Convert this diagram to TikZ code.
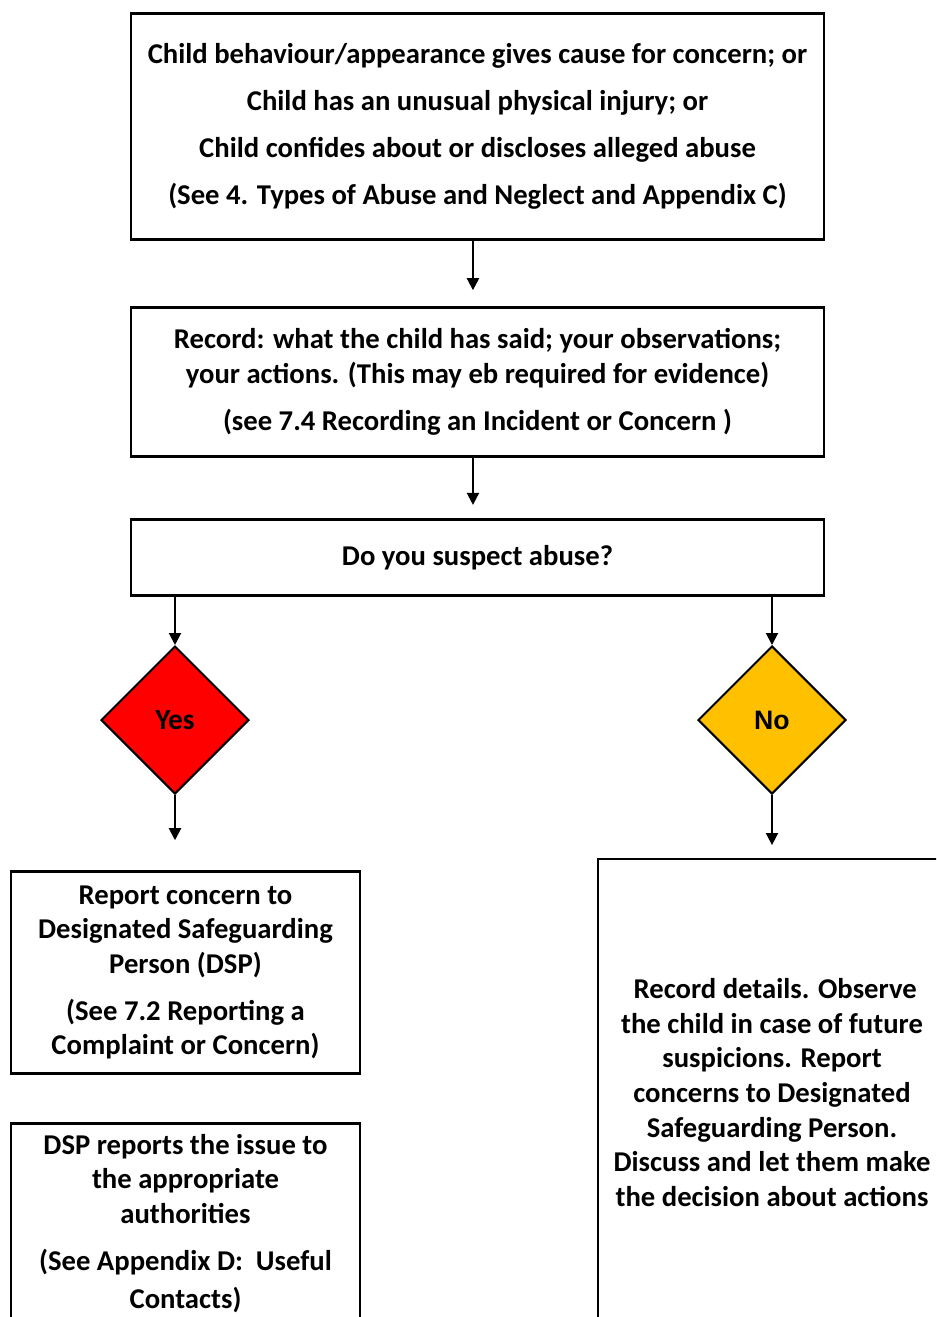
\documentclass[tikz,border=0pt]{standalone}
\usepackage{fontspec}
\setmainfont{Carlito}
\newfontfamily\arialfont{Liberation Sans}
\usetikzlibrary{shapes.geometric,arrows.meta}
\begin{document}
\begin{tikzpicture}[x=0.75pt,y=-0.75pt,
  box/.style={draw, line width=1.9pt, inner sep=0pt, align=center,
    font=\bfseries\fontsize{21.5}{25.9}\selectfont},
  arr/.style={line width=1.5pt, -{Triangle[width=9pt,length=9pt]}},
  dia/.style={diamond, draw, line width=1.5pt, minimum size=148*0.75pt,
    inner sep=0pt, aspect=1}]
\clip (0,0) rectangle (936,1317);
\fill[white] (0,0) rectangle (936,1317);

\node[box, minimum width=693*0.75pt, minimum height=226*0.75pt] (b1) at (477.5,126.5)
 {Child behaviour/appearance gives cause for concern; or\\[9.4pt]
  Child has an unusual physical injury; or\\[9.4pt]
  Child confides about or discloses alleged abuse\\[9.4pt]
  (See 4. Types of Abuse and Neglect and Appendix C)};

\node[box, minimum width=693*0.75pt, minimum height=149*0.75pt] (b2) at (477.5,382)
 {Record: what the child has said; your observations;\\
  your actions. (This may eb required for evidence)\\[9.4pt]
  (see 7.4 Recording an Incident or Concern )};

\node[box, minimum width=693*0.75pt, minimum height=76*0.75pt] (b3) at (477.5,557.5)
 {Do you suspect abuse?};

\node[dia, fill={rgb,255:red,255;green,0;blue,0},
  font=\bfseries\fontsize{22}{26}\selectfont] (yes) at (175,720) {Yes};
\node[dia, fill={rgb,255:red,255;green,192;blue,0},
  font=\arialfont\bfseries\fontsize{20}{24}\selectfont] (no) at (772,720) {No};

\node[box, minimum width=349*0.75pt, minimum height=202*0.75pt] (l1) at (185.5,972.5)
 {Report concern to\\Designated Safeguarding\\Person (DSP)\\[9.4pt]
  (See 7.2 Reporting a\\Complaint or Concern)};

\node[box, minimum width=349*0.75pt, minimum height=200*0.75pt] (l2) at (185.5,1223.5)
 {DSP reports the issue to\\the appropriate\\authorities\\[9.4pt]
  (See Appendix D:\ \ Useful\\[2.5pt]Contacts)};

\node[box, minimum width=348*0.75pt, minimum height=467*0.75pt] (r1) at (772,1092.5)
 {\ Record details. Observe\\the child in case of future\\suspicions. Report\\
  concerns to Designated\\Safeguarding Person.\\Discuss and let them make\\
  the decision about actions};

\draw[arr, shorten >=12pt] ([xshift=-3.4pt]b1.south) -- ([xshift=-3.4pt]b2.north);
\draw[arr, shorten >=10pt] ([xshift=-3.4pt]b2.south) -- ([xshift=-3.4pt]b3.north);
\draw[arr] (b3.south -| yes.north) -- (yes.north);
\draw[arr] (b3.south -| no.north) -- (no.north);
\draw[arr, shorten >=22.5pt] (yes.south) -- (yes.south |- l1.north);
\draw[arr, shorten >=9.5pt] (no.south) -- (no.south |- r1.north);
\end{tikzpicture}
\end{document}
